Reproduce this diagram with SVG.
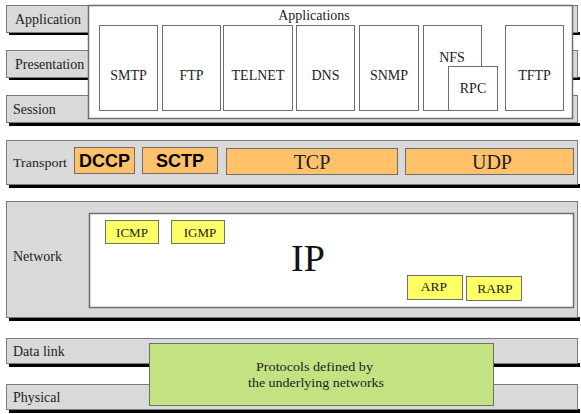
<svg xmlns="http://www.w3.org/2000/svg" width="581" height="414" viewBox="0 0 581 414">
<style>
.bar{fill:#d9d9d9;stroke:#7a7a7a;stroke-width:1}
.sh{fill:#000}
.wb{fill:#fff;stroke:#6e6e6e;stroke-width:1.5}
.ab{fill:#fff;stroke:#6e6e6e;stroke-width:1}
.or{fill:#ffc26b;stroke:#6e6e6e;stroke-width:1}
.ye{fill:#ffff66;stroke:#6e6e6e;stroke-width:1}
.gr{fill:#c3e383;stroke:#6e6e6e;stroke-width:1}
.t{font-family:"Liberation Serif","Times New Roman","DejaVu Serif",serif;fill:#222}
.lb{font-size:14px}
.pt{font-size:14px;text-anchor:middle}
.bs{font-family:"Liberation Sans",Arial,sans-serif;font-weight:bold;font-size:18px;text-anchor:middle;fill:#000}
</style>
<rect width="581" height="414" fill="#fff"/>
<g id="layer-application"><rect class="sh" x="9" y="32" width="571" height="3"/><rect class="bar" x="6.5" y="5.5" width="571" height="27"/><text class="t lb" x="15" y="24">Application</text></g>
<g id="layer-presentation"><rect class="sh" x="9" y="77" width="571" height="3"/><rect class="bar" x="6.5" y="50.5" width="571" height="27"/><text class="t lb" x="15" y="69">Presentation</text></g>
<g id="layer-session"><rect class="sh" x="9" y="123" width="571" height="3"/><rect class="bar" x="6.5" y="95.5" width="571" height="27"/><text class="t lb" x="13" y="114">Session</text></g>
<g id="applications"><rect class="wb" x="88.5" y="5.5" width="484" height="113"/><text class="t pt" x="314" y="20">Applications</text></g>
<g id="smtp"><rect class="ab" x="99.5" y="25.5" width="58" height="85"/><text class="t pt" x="128.5" y="80">SMTP</text></g>
<g id="ftp"><rect class="ab" x="162.5" y="25.5" width="58" height="85"/><text class="t pt" x="191.5" y="80">FTP</text></g>
<g id="telnet"><rect class="ab" x="223.5" y="25.5" width="69" height="85"/><text class="t pt" x="258" y="80">TELNET</text></g>
<g id="dns"><rect class="ab" x="296.5" y="25.5" width="58" height="85"/><text class="t pt" x="325.5" y="80">DNS</text></g>
<g id="snmp"><rect class="ab" x="359.5" y="25.5" width="59" height="85"/><text class="t pt" x="389" y="80">SNMP</text></g>
<g id="nfs"><rect class="ab" x="423.5" y="25.5" width="58" height="85"/><text class="t pt" x="452" y="62">NFS</text></g>
<g id="rpc"><rect class="ab" x="448.5" y="66.5" width="49" height="44"/><text class="t pt" x="473" y="93">RPC</text></g>
<g id="tftp"><rect class="ab" x="505.5" y="25.5" width="58" height="85"/><text class="t pt" x="534.5" y="80">TFTP</text></g>
<g id="layer-transport"><rect class="sh" x="9" y="184" width="571" height="4"/><rect class="bar" x="6.5" y="140.5" width="571" height="44"/><text class="t" x="13" y="167" style="font-size:12px" textLength="54" lengthAdjust="spacingAndGlyphs">Transport</text></g>
<g id="dccp"><rect class="or" x="74.5" y="147.5" width="60" height="26"/><text class="bs" x="104.5" y="167">DCCP</text></g>
<g id="sctp"><rect class="or" x="142.5" y="147.5" width="75" height="26"/><text class="bs" x="180" y="167">SCTP</text></g>
<g id="tcp"><rect class="or" x="226.5" y="148.5" width="171" height="26"/><text class="t pt" x="312" y="169" style="font-size:20px">TCP</text></g>
<g id="udp"><rect class="or" x="405.5" y="148.5" width="168" height="26"/><text class="t pt" x="492" y="169" style="font-size:20px">UDP</text></g>
<g id="layer-network"><rect class="sh" x="9" y="317" width="571" height="4"/><rect class="bar" x="6.5" y="201.5" width="571" height="116"/><text class="t lb" x="13" y="261">Network</text></g>
<g id="ip"><rect class="wb" x="89.5" y="213.5" width="484" height="94"/><text class="t" x="308" y="271" style="font-size:38px;text-anchor:middle;fill:#111">IP</text></g>
<g id="icmp"><rect class="ye" x="105.5" y="220.5" width="53" height="23"/><text class="t pt" x="132" y="237" style="font-size:13px">ICMP</text></g>
<g id="igmp"><rect class="ye" x="171.5" y="220.5" width="53" height="23"/><text class="t pt" x="200" y="237" style="font-size:13px">IGMP</text></g>
<g id="arp"><rect class="ye" x="407.5" y="275.5" width="55" height="24"/><text class="t pt" x="434" y="291" style="font-size:13.5px">ARP</text></g>
<g id="rarp"><rect class="ye" x="466.5" y="276.5" width="55" height="24"/><text class="t pt" x="495" y="293" style="font-size:13.5px">RARP</text></g>
<g id="layer-datalink"><rect class="sh" x="9" y="363" width="571" height="4"/><rect class="bar" x="6.5" y="338.5" width="571" height="25"/><text class="t lb" x="13" y="356">Data link</text></g>
<g id="layer-physical"><rect class="sh" x="9" y="409" width="571" height="4"/><rect class="bar" x="6.5" y="384.5" width="571" height="25"/><text class="t lb" x="13" y="402">Physical</text></g>
<g id="underlying"><rect class="gr" x="149.5" y="343.5" width="344" height="62"/><text class="t" x="256" y="371" style="font-size:13.5px" textLength="117" lengthAdjust="spacingAndGlyphs">Protocols defined by</text><text class="t" x="248" y="387" style="font-size:13.5px" textLength="136" lengthAdjust="spacingAndGlyphs">the underlying networks</text></g>
<g id="connectors"/>
</svg>
